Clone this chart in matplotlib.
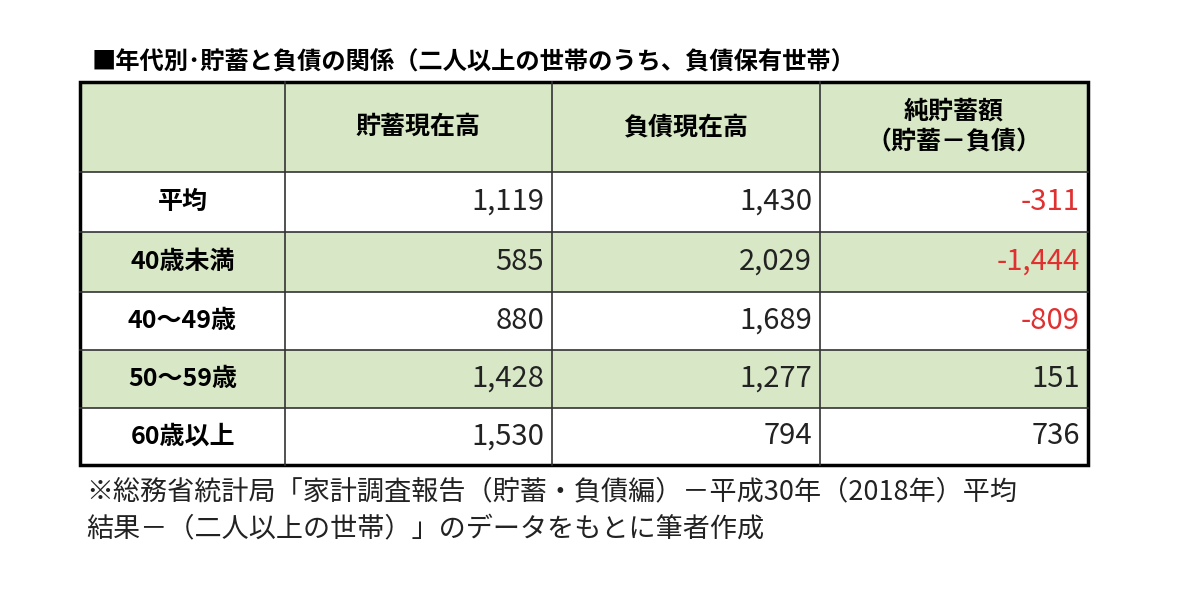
import matplotlib
matplotlib.use("Agg")
import matplotlib.pyplot as plt
from matplotlib.patches import Rectangle

plt.rcParams['font.family'] = ['Noto Sans CJK JP', 'DejaVu Sans']

title = "■年代別･貯蓄と負債の関係（二人以上の世帯のうち、負債保有世帯）"
headers = ["", "貯蓄現在高", "負債現在高", "純貯蓄額\n（貯蓄－負債）"]
rows = ["平均", "40歳未満", "40～49歳", "50～59歳", "60歳以上"]
savings = [1119, 585, 880, 1428, 1530]
debts = [1430, 2029, 1689, 1277, 794]
net = [-311, -1444, -809, 151, 736]
note = ["※総務省統計局「家計調査報告（貯蓄・負債編）－平成30年（2018年）平均",
        "結果－（二人以上の世帯）」のデータをもとに筆者作成"]

green = "#d8e8c6"
fig = plt.figure(figsize=(12, 6.16), dpi=100)
ax = fig.add_axes([0, 0, 1, 1])
ax.set_xlim(0, 1200)
ax.set_ylim(616, 0)
ax.axis("off")

col_x = [80, 285, 552, 820, 1088]
row_y = [82, 172, 232, 292, 350, 408, 465]

ax.text(92, 62, title, fontsize=17.5, fontweight="bold", va="center", ha="left")

for r in range(6):
    fill = green if r in (0, 2, 4) else "white"
    ax.add_patch(Rectangle((col_x[0], row_y[r]), col_x[-1] - col_x[0],
                           row_y[r + 1] - row_y[r], facecolor=fill, edgecolor="none"))
for y in row_y[1:-1]:
    ax.plot([col_x[0], col_x[-1]], [y, y], color="#333333", lw=1.2)
for x in col_x[1:-1]:
    ax.plot([x, x], [row_y[0], row_y[-1]], color="#333333", lw=1.2)
ax.add_patch(Rectangle((col_x[0], row_y[0]), col_x[-1] - col_x[0], row_y[-1] - row_y[0],
                       facecolor="none", edgecolor="black", lw=2.5))

for c, h in enumerate(headers):
    ax.text((col_x[c] + col_x[c + 1]) / 2, (row_y[0] + row_y[1]) / 2, h,
            fontsize=18, fontweight="bold", ha="center", va="center", linespacing=1.4)

for r, name in enumerate(rows):
    yc = (row_y[r + 1] + row_y[r + 2]) / 2
    ax.text((col_x[0] + col_x[1]) / 2, yc, name, fontsize=18, fontweight="bold",
            ha="center", va="center")
    for c, vals in enumerate([savings, debts, net]):
        v = vals[r]
        color = "#e03030" if v < 0 else "#222222"
        ax.text(col_x[c + 2] - 8, yc, f"{v:,}", fontsize=21, ha="right", va="center",
                color=color)

ax.text(86, 492, note[0], fontsize=19.5, ha="left", va="center", color="#222222")
ax.text(86, 530, note[1], fontsize=19.5, ha="left", va="center", color="#222222")

fig.savefig("out.png", dpi=100)
